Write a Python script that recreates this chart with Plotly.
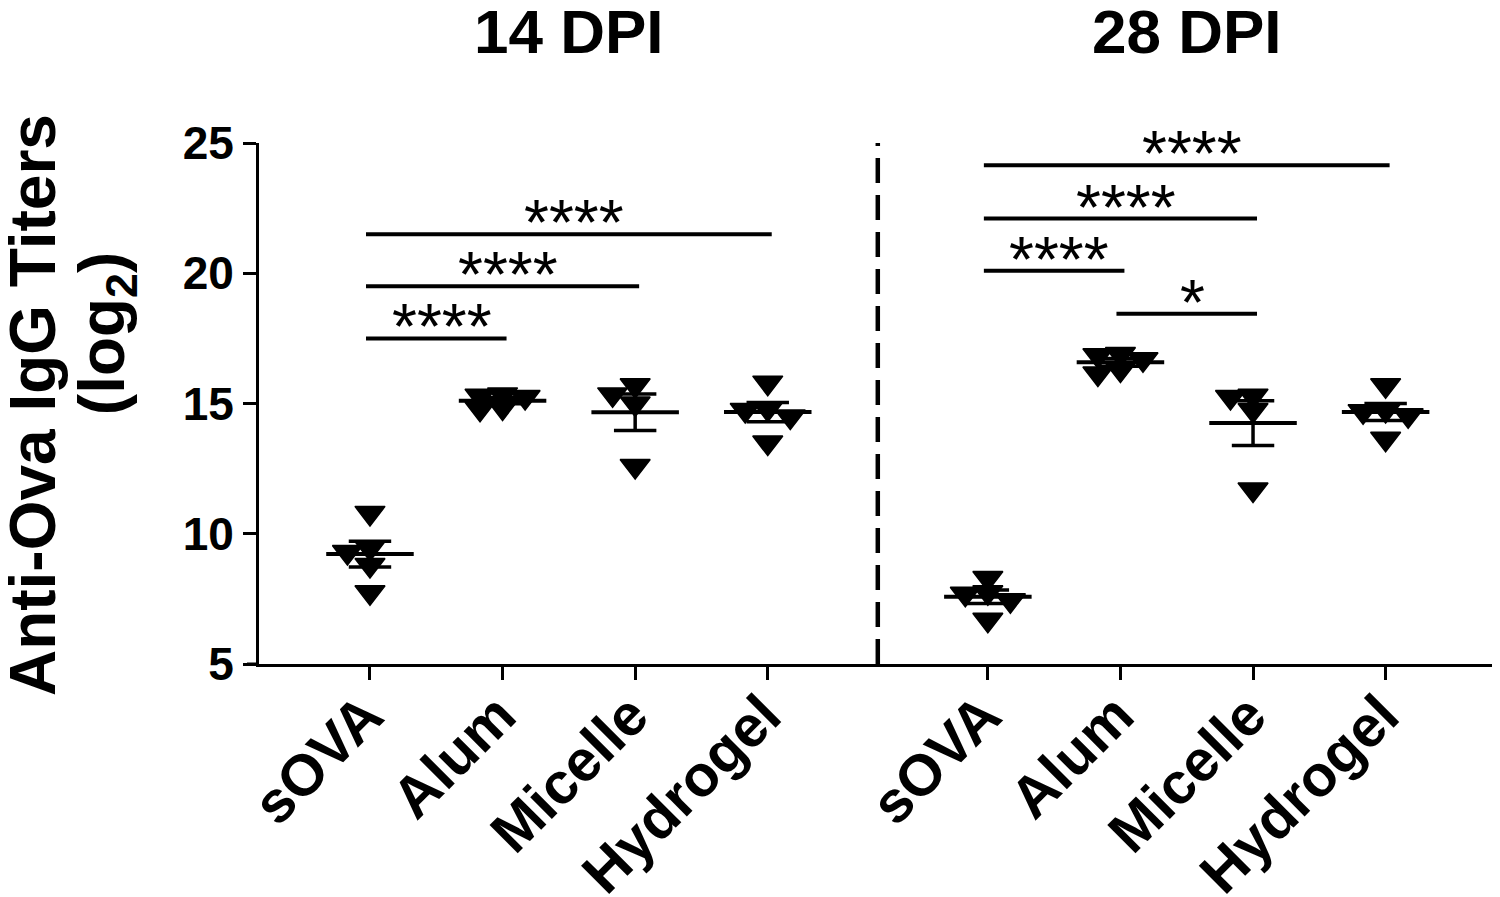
import plotly.graph_objects as go
import numpy as np

# ---------------- data ----------------
categories = ["sOVA", "Alum", "Micelle", "Hydrogel"]
timepoints = ["14 DPI", "28 DPI"]

dpi14_sova = [10.8, 9.45, 9.3, 8.8, 7.75]
dpi14_alum = [15.35, 15.3, 15.25, 14.85, 14.8]
dpi14_micelle = [15.7, 15.35, 15.0, 12.6]
dpi14_hydrogel = [14.8, 14.75, 15.8, 14.5, 13.5]

dpi28_sova = [7.75, 7.7, 8.3, 7.45, 6.7]
dpi28_alum = [16.9, 16.85, 16.7, 16.3, 16.15]
dpi28_micelle = [14.75, 15.3, 15.25, 11.7]
dpi28_hydrogel = [14.75, 14.7, 15.7, 14.55, 13.65]

y_ticks = [5, 10, 15, 20, 25]

sig14_pairs = [("sOVA", "Alum"), ("sOVA", "Micelle"), ("sOVA", "Hydrogel")]
sig14_y = [17.5, 19.5, 21.5]
sig14_labels = ["****", "****", "****"]

sig28_pairs = [("sOVA", "Hydrogel"), ("sOVA", "Micelle"), ("sOVA", "Alum"), ("Alum", "Micelle")]
sig28_y = [24.15, 22.1, 20.1, 18.45]
sig28_labels = ["****", "****", "****", "*"]

groups = [
    [dpi14_sova, dpi14_alum, dpi14_micelle, dpi14_hydrogel],
    [dpi28_sova, dpi28_alum, dpi28_micelle, dpi28_hydrogel],
]
sigs = [(sig14_pairs, sig14_y, sig14_labels), (sig28_pairs, sig28_y, sig28_labels)]

# ---------------- layout constants ----------------
# the page body has an 8px default margin, so the figure is offset by it
FIG_W, FIG_H = 1492, 889
MARGIN = dict(l=251, r=3, t=135, b=233, pad=0)
PLOT_W = FIG_W - MARGIN["l"] - MARGIN["r"]
GROUP_OFFSET = 4.66
X_RANGE = [-0.837, 8.5]
Y_RANGE = [5, 25]
FONT = "Arial, 'Liberation Sans', Helvetica, sans-serif"
MEAN_HALF = 0.33
CAP_HALF = 0.16
JIT_STEP = 0.17
JIT_DX = 0.17
JIT_DY = 0.5


def xpos(g, i):
    return g * GROUP_OFFSET + i


def beeswarm(vals):
    placed = []
    offs = []
    for v in vals:
        cands = [0.0]
        for k in range(1, 8):
            cands += [-k * JIT_STEP, k * JIT_STEP]
        for c in cands:
            ok = all(not (abs(c - o) < JIT_DX - 1e-9 and abs(v - pv) < JIT_DY - 1e-9)
                     for pv, o in placed)
            if ok:
                break
        placed.append((v, c))
        offs.append(c)
    return offs


fig = go.Figure()

tickvals, ticktext = [], []
for g, grp in enumerate(groups):
    for i, vals in enumerate(grp):
        x0 = xpos(g, i)
        tickvals.append(x0)
        ticktext.append(categories[i])
        offs = beeswarm(vals)
        fig.add_trace(go.Scatter(
            x=[x0 + o for o in offs], y=vals, mode="markers",
            marker=dict(symbol="triangle-down", size=26, color="black",
                        line=dict(color="black", width=1.5)),
            showlegend=False, hoverinfo="skip"))
        arr = np.array(vals, dtype=float)
        m = arr.mean()
        sem = arr.std(ddof=1) / np.sqrt(len(arr))
        fig.add_trace(go.Scatter(
            x=[x0 - MEAN_HALF, x0 + MEAN_HALF], y=[m, m], mode="lines",
            line=dict(color="black", width=4), showlegend=False, hoverinfo="skip"))
        fig.add_trace(go.Scatter(
            x=[x0 - CAP_HALF, x0 + CAP_HALF, None, x0, x0, None, x0 - CAP_HALF, x0 + CAP_HALF],
            y=[m + sem, m + sem, None, m + sem, m - sem, None, m - sem, m - sem],
            mode="lines", line=dict(color="black", width=3.5),
            showlegend=False, hoverinfo="skip"))

annotations = []
for g, (pairs, ys, labels) in enumerate(sigs):
    for (a, b), yv, lab in zip(pairs, ys, labels):
        xa = xpos(g, categories.index(a))
        xb = xpos(g, categories.index(b))
        fig.add_trace(go.Scatter(
            x=[xa - 0.03, xb + 0.03], y=[yv, yv], mode="lines",
            line=dict(color="black", width=4), showlegend=False, hoverinfo="skip"))
        annotations.append(dict(
            x=(xa + xb) / 2 + 0.04, y=yv, xref="x", yref="y", text=lab,
            showarrow=False, xanchor="center", yanchor="middle", yshift=11,
            font=dict(family=FONT, size=64, color="black")))

for g, tp in enumerate(timepoints):
    annotations.append(dict(
        x=(xpos(g, 0) + xpos(g, 3)) / 2, y=1, xref="x", yref="paper", text=tp,
        showarrow=False, xanchor="center", yanchor="middle", yshift=112,
        font=dict(family=FONT, size=62, color="black", weight="bold")))

annotations.append(dict(
    x=0, y=0.497, xref="paper", yref="paper", text="Anti-Ova IgG Titers",
    showarrow=False, xanchor="center", yanchor="middle", xshift=-226, textangle=-90,
    font=dict(family=FONT, size=64, color="black", weight="bold")))
annotations.append(dict(
    x=0, y=0.635, xref="paper", yref="paper", text="(log<sub>2</sub>)",
    showarrow=False, xanchor="center", yanchor="middle", xshift=-153, textangle=-90,
    font=dict(family=FONT, size=64, color="black", weight="bold")))

sep_x = (xpos(0, 3) + xpos(1, 0)) / 2
shapes = [
    dict(type="line", xref="x", yref="y", x0=sep_x, x1=sep_x, y0=Y_RANGE[0], y1=Y_RANGE[1] + 0.3,
         line=dict(color="black", width=4.5, dash="25px,12px")),
    dict(type="line", xref="paper", yref="y", x0=-12 / PLOT_W, x1=0, y0=Y_RANGE[0], y1=Y_RANGE[0],
         line=dict(color="black", width=3)),
]

fig.update_layout(
    template="none",
    width=FIG_W, height=FIG_H,
    margin=MARGIN,
    plot_bgcolor="white", paper_bgcolor="white",
    annotations=annotations, shapes=shapes,
    xaxis=dict(range=X_RANGE, tickvals=tickvals, ticktext=ticktext, tickangle=-45,
               automargin=False, ticklabelstandoff=-22, ticklabelshift=-4,
               showgrid=False, zeroline=False, showline=True, linecolor="black", linewidth=3,
               ticks="outside", ticklen=13, tickwidth=3, tickcolor="black",
               tickfont=dict(family=FONT, size=58, color="black", weight="bold")),
    yaxis=dict(range=Y_RANGE, tickvals=y_ticks, showgrid=False, zeroline=False,
               automargin=False,
               showline=True, linecolor="black", linewidth=3,
               ticks="outside", ticklen=13, tickwidth=3, tickcolor="black",
               tickfont=dict(family=FONT, size=46, color="black", weight="bold")),
)

fig.write_html("out.html")
